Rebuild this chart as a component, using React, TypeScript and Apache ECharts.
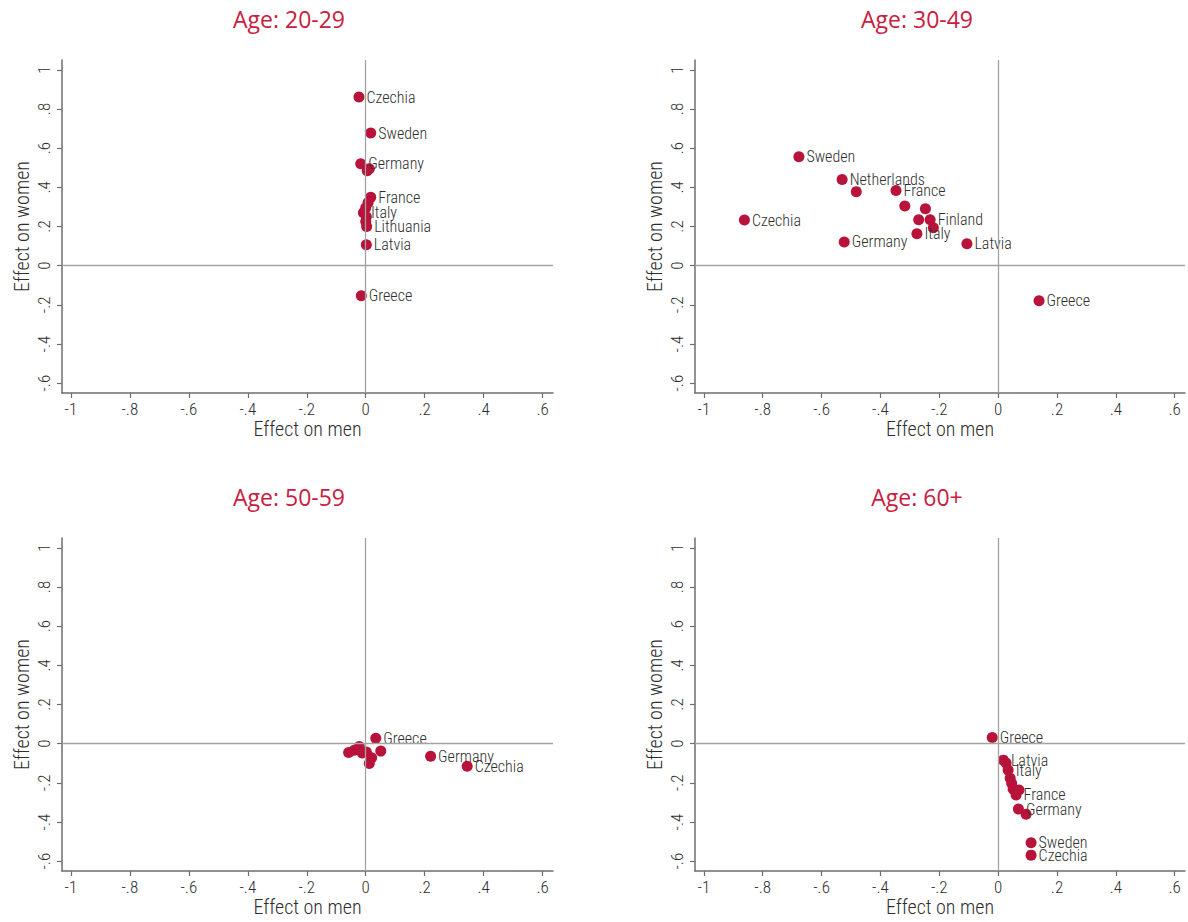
import React, { useEffect, useRef } from "react";
import * as echarts from "echarts";

const panelTitles = ["Age: 20-29", "Age: 30-49", "Age: 50-59", "Age: 60+"];
const xTickValues = [-1, -0.8, -0.6, -0.4, -0.2, 0, 0.2, 0.4, 0.6];
const yTickValues = [-0.6, -0.4, -0.2, 0, 0.2, 0.4, 0.6, 0.8, 1];
const xAxisTitle = "Effect on men";
const yAxisTitle = "Effect on women";

const age2029Names = ["Czechia", "Sweden", "Germany", "", "", "France", "", "", "Italy", "", "", "Lithuania", "Latvia", "Greece"];
const age2029Men = [-0.023, 0.017, -0.017, 0.012, 0.005, 0.017, 0.008, 0.0, -0.008, 0.002, 0.0, 0.003, 0.002, -0.015];
const age2029Women = [0.861, 0.677, 0.52, 0.495, 0.485, 0.349, 0.323, 0.296, 0.27, 0.25, 0.226, 0.2, 0.107, -0.153];

const age3049Names = ["Sweden", "Netherlands", "", "France", "", "", "", "Finland", "", "Italy", "Czechia", "Germany", "Latvia", "Greece"];
const age3049Men = [-0.677, -0.53, -0.482, -0.347, -0.317, -0.247, -0.27, -0.231, -0.22, -0.276, -0.862, -0.523, -0.106, 0.139];
const age3049Women = [0.556, 0.44, 0.378, 0.384, 0.305, 0.291, 0.235, 0.235, 0.194, 0.163, 0.233, 0.121, 0.112, -0.179];

const age5059Names = ["Greece", "", "", "", "", "", "", "", "", "Germany", "Czechia"];
const age5059Men = [0.034, 0.051, -0.058, -0.039, -0.022, -0.012, 0.002, 0.02, 0.012, 0.22, 0.344];
const age5059Women = [0.028, -0.038, -0.045, -0.033, -0.015, -0.048, -0.043, -0.072, -0.101, -0.064, -0.115];

const age60Names = ["Greece", "Latvia", "", "Italy", "", "", "", "France", "", "Germany", "", "Sweden", "Czechia"];
const age60Men = [-0.02, 0.018, 0.027, 0.034, 0.041, 0.046, 0.051, 0.061, 0.071, 0.069, 0.095, 0.112, 0.112];
const age60Women = [0.032, -0.084, -0.099, -0.135, -0.176, -0.202, -0.232, -0.262, -0.237, -0.334, -0.36, -0.506, -0.569];

const panels = [
  { names: age2029Names, men: age2029Men, women: age2029Women },
  { names: age3049Names, men: age3049Men, women: age3049Women },
  { names: age5059Names, men: age5059Men, women: age5059Women },
  { names: age60Names, men: age60Men, women: age60Women },
];

const FONT = "'Roboto Condensed', 'Liberation Sans Narrow', 'Arial Narrow', 'DejaVu Sans Condensed', Roboto, sans-serif";
const RED = "#b8133a";
const TITLE_RED = "#c8203f";
const AXIS_GRAY = "#6e6e6e";
const ZERO_GRAY = "#a3a3a3";
const TEXT = "#2e2e2e";

const gridBoxes = [
  { left: 62, top: 60, width: 491, height: 333 },
  { left: 695, top: 60, width: 490, height: 333 },
  { left: 62, top: 538, width: 491, height: 333 },
  { left: 695, top: 538, width: 490, height: 333 },
];
const titlePos = [
  { x: 284, y: 2 },
  { x: 912, y: 2 },
  { x: 284, y: 480 },
  { x: 912, y: 480 },
];

const fmt = (v: number) => {
  if (Math.abs(v) < 1e-9) return "0";
  const s = String(Math.round(v * 10) / 10);
  return s.replace("0.", ".");
};

export default function App() {
  const ref = useRef<HTMLDivElement>(null);
  useEffect(() => {
    if (!ref.current) return;
    const chart = echarts.init(ref.current, undefined, { renderer: "svg" });
    const option: any = {
      animation: false,
      backgroundColor: "#ffffff",
      title: panelTitles.map((t, i) => ({
        text: t,
        left: titlePos[i].x,
        top: titlePos[i].y,
        textAlign: "center",
        textStyle: { fontFamily: "'Open Sans', sans-serif", fontWeight: "normal", fontSize: 23, color: TITLE_RED },
      })),
      grid: gridBoxes.map((g) => ({ ...g, containLabel: false })),
      xAxis: gridBoxes.map((_, i) => ({
        type: "value",
        gridIndex: i,
        min: -1.03,
        max: 0.635,
        name: xAxisTitle,
        nameLocation: "middle",
        nameGap: 26,
        nameTextStyle: { fontFamily: FONT, fontWeight: 300, fontSize: 20, color: TEXT },
        axisLine: { show: true, onZero: false, lineStyle: { color: AXIS_GRAY, width: 1.5 } },
        axisTick: { show: true, length: 5, customValues: xTickValues, lineStyle: { color: AXIS_GRAY, width: 1.2 } },
        axisLabel: { customValues: xTickValues, formatter: fmt, margin: 7, fontFamily: FONT, fontWeight: 300, fontSize: 17, color: TEXT },
        splitLine: { show: false },
      })),
      yAxis: gridBoxes.map((_, i) => ({
        type: "value",
        gridIndex: i,
        min: -0.65,
        max: 1.05,
        name: yAxisTitle,
        nameLocation: "middle",
        nameGap: 30,
        nameTextStyle: { fontFamily: FONT, fontWeight: 300, fontSize: 20, color: TEXT },
        axisLine: { show: true, onZero: false, lineStyle: { color: AXIS_GRAY, width: 1.5 } },
        axisTick: { show: true, length: 5, customValues: yTickValues, lineStyle: { color: AXIS_GRAY, width: 1.2 } },
        axisLabel: { customValues: yTickValues, formatter: fmt, rotate: 90, margin: 10, fontFamily: FONT, fontWeight: 300, fontSize: 17, color: TEXT },
        splitLine: { show: false },
      })),
      series: panels.flatMap((p, i) => [
        {
          type: "line",
          xAxisIndex: i,
          yAxisIndex: i,
          data: [],
          z: 1,
          silent: true,
          markLine: {
            silent: true,
            symbol: ["none", "none"],
            label: { show: false },
            lineStyle: { color: ZERO_GRAY, width: 1.3, type: "solid" },
            data: [{ xAxis: 0 }, { yAxis: 0 }],
          },
        },
        {
          type: "scatter",
          xAxisIndex: i,
          yAxisIndex: i,
          z: 3,
          symbolSize: 11,
          itemStyle: { color: RED, opacity: 1 },
          label: {
            show: true,
            position: "right",
            distance: 2,
            formatter: (d: any) => d.name,
            fontFamily: FONT,
            fontWeight: 300,
            fontSize: 16,
            color: TEXT,
          },
          data: p.names.map((n, k) => ({ name: n, value: [p.men[k], p.women[k]] })),
        },
      ]),
    };
    chart.setOption(option);
    return () => chart.dispose();
  }, []);
  return <div ref={ref} style={{ position: "fixed", left: 0, top: 0, width: 1188, height: 922 }} />;
}
